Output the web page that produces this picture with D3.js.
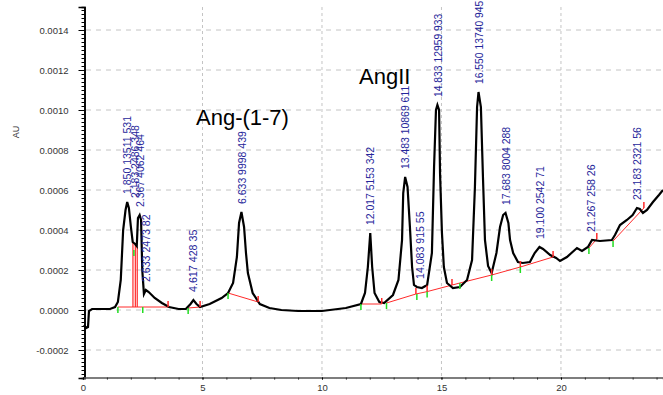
<!DOCTYPE html>
<html>
<head>
<meta charset="utf-8">
<script src="https://cdn.jsdelivr.net/npm/d3@7"></script>
<style>
  body { margin: 0; background: #fff; }
  svg { display: block; }
</style>
</head>
<body>
<div id="chart"></div>
<script>
const width = 663;
const height = 395;

// chromatogram trace: time (min) and absorbance (AU)
const traceTime = [0.04, 0.13, 0.21, 0.25, 0.38, 1.13, 1.34, 1.46, 1.58, 1.68, 1.78, 1.85, 1.92, 2.0, 2.08, 2.18, 2.25, 2.3, 2.37, 2.43, 2.48, 2.55, 2.63, 2.75, 3.0, 3.3, 3.6, 4.0, 4.3, 4.5, 4.62, 4.75, 4.9, 5.3, 5.8, 6.07, 6.28, 6.44, 6.53, 6.63, 6.74, 6.82, 6.9, 7.1, 7.4, 7.8, 8.3, 9.0, 10.0, 11.0, 11.63, 11.8, 11.92, 12.02, 12.1, 12.2, 12.4, 12.6, 12.97, 13.2, 13.35, 13.4, 13.48, 13.58, 13.68, 13.77, 13.85, 13.97, 14.18, 14.4, 14.6, 14.69, 14.77, 14.83, 14.9, 14.94, 15.02, 15.1, 15.23, 15.48, 15.77, 16.07, 16.28, 16.4, 16.49, 16.55, 16.65, 16.74, 16.82, 16.95, 17.1, 17.3, 17.45, 17.58, 17.68, 17.8, 17.87, 18.0, 18.2, 18.4, 18.7, 18.9, 19.1, 19.25, 19.55, 19.8, 19.96, 20.25, 20.67, 20.88, 21.13, 21.3, 21.63, 22.13, 22.26, 22.47, 22.76, 23.0, 23.18, 23.3, 23.43, 23.6, 23.85, 24.1, 24.27];
const traceAU = [-0.75e-4, -0.9e-4, -0.85e-4, -0.05e-4, 0.05e-4, 0.05e-4, 0.15e-4, 0.4e-4, 1.5e-4, 4.0e-4, 5.0e-4, 5.4e-4, 5.1e-4, 4.2e-4, 3.4e-4, 3.3e-4, 3.2e-4, 4.6e-4, 4.75e-4, 4.5e-4, 2.0e-4, 0.8e-4, 1.0e-4, 0.9e-4, 0.6e-4, 0.35e-4, 0.15e-4, 0.05e-4, 0.05e-4, 0.3e-4, 0.5e-4, 0.3e-4, 0.15e-4, 0.3e-4, 0.6e-4, 0.85e-4, 1.35e-4, 2.65e-4, 4.35e-4, 4.9e-4, 4.15e-4, 2.85e-4, 1.85e-4, 0.85e-4, 0.3e-4, 0.1e-4, 0.0, -0.05e-4, -0.05e-4, 0.1e-4, 0.3e-4, 0.85e-4, 2.15e-4, 3.85e-4, 2.15e-4, 0.85e-4, 0.4e-4, 0.35e-4, 0.75e-4, 1.5e-4, 3.5e-4, 5.85e-4, 6.65e-4, 6.15e-4, 4.15e-4, 2.15e-4, 1.25e-4, 1.15e-4, 1.1e-4, 1.25e-4, 2.85e-4, 7.15e-4, 10.0e-4, 10.25e-4, 10.0e-4, 6.85e-4, 3.85e-4, 2.15e-4, 1.35e-4, 1.1e-4, 1.15e-4, 1.5e-4, 2.5e-4, 6.15e-4, 10.15e-4, 10.9e-4, 10.15e-4, 6.5e-4, 3.5e-4, 2.2e-4, 1.85e-4, 2.85e-4, 4.15e-4, 4.75e-4, 4.85e-4, 4.35e-4, 3.5e-4, 2.85e-4, 2.4e-4, 2.35e-4, 2.4e-4, 2.85e-4, 3.15e-4, 3.05e-4, 2.75e-4, 2.6e-4, 2.45e-4, 2.65e-4, 3.1e-4, 2.95e-4, 3.15e-4, 3.5e-4, 3.45e-4, 3.5e-4, 3.75e-4, 4.25e-4, 4.5e-4, 4.75e-4, 5.1e-4, 5.05e-4, 4.85e-4, 5.0e-4, 5.4e-4, 5.75e-4, 6.0e-4];

// integration baselines (red): start time, start AU, end time, end AU
const baseStartT = [1.46, 4.4, 6.07, 11.63, 12.7, 13.93, 14.4, 15.77, 17.1, 18.3, 21.17, 22.18];
const baseStartV = [0.15e-4, 0.1e-4, 0.85e-4, 0.3e-4, 0.35e-4, 0.8e-4, 0.92e-4, 1.35e-4, 1.75e-4, 2.15e-4, 3.1e-4, 3.45e-4];
const baseEndT = [3.56, 4.9, 7.33, 12.5, 13.93, 14.4, 15.77, 17.1, 18.3, 19.67, 21.5, 23.47];
const baseEndV = [0.15e-4, 0.15e-4, 0.4e-4, 0.3e-4, 0.8e-4, 0.92e-4, 1.35e-4, 1.75e-4, 2.15e-4, 2.65e-4, 3.55e-4, 5.1e-4];

// drop lines inside the first cluster
const dropT = [2.09, 2.19, 2.27];
const dropTop = [3.35e-4, 3.25e-4, 3.15e-4];
const dropBottom = 0.15e-4;

// peak start (green) and end (red) markers
const startT = [1.46, 2.13, 2.5, 4.4, 6.07, 11.63, 12.7, 13.97, 14.4, 15.77, 17.1, 18.3, 21.17, 22.18];
const startV = [0.15e-4, 3.0e-4, 0.15e-4, 0.1e-4, 0.85e-4, 0.3e-4, 0.35e-4, 0.8e-4, 0.92e-4, 1.35e-4, 1.75e-4, 2.15e-4, 3.1e-4, 3.45e-4];
const endT = [3.56, 4.9, 7.33, 12.5, 13.93, 14.4, 15.44, 17.1, 18.3, 19.67, 21.5, 23.47];
const endV = [0.15e-4, 0.15e-4, 0.4e-4, 0.3e-4, 0.8e-4, 0.92e-4, 1.25e-4, 1.75e-4, 2.15e-4, 2.65e-4, 3.55e-4, 5.1e-4];

// peak annotations: retention time, label, height the label sits on
const peakT = [1.85, 2.183, 2.367, 2.633, 4.617, 6.633, 12.017, 13.483, 14.083, 14.833, 16.55, 17.683, 19.1, 21.267, 23.183];
const peakText = ["1.850 13511 531", "2.183 2486 348", "2.367 4062 464", "2.633 2473 82", "4.617 428 35",
  "6.633 9998 439", "12.017 5153 342", "13.483 10869 611", "14.083 915 55", "14.833 12959 933",
  "16.550 13740 945", "17.683 8004 288", "19.100 2542 71", "21.267 258 26", "23.183 2321 56"];
const peakTop = [5.4e-4, 5.2e-4, 4.75e-4, 1.0e-4, 0.5e-4, 4.9e-4, 3.85e-4, 6.65e-4, 1.15e-4, 10.25e-4, 10.9e-4, 4.85e-4, 3.15e-4, 3.5e-4, 5.1e-4];

const yTicks = [-0.0002, 0, 0.0002, 0.0004, 0.0006, 0.0008, 0.0010, 0.0012, 0.0014];
const yTickLabels = ["-0.0002", "0.0000", "0.0002", "0.0004", "0.0006", "0.0008", "0.0010", "0.0012", "0.0014"];
const xTicks = [0, 5, 10, 15, 20];

const xScale = d3.scaleLinear().domain([0, 24.27]).range([83, 663]);
const yScale = d3.scaleLinear().domain([-0.00034, 0.001515]).range([378, 7]);

const svg = d3.select("#chart").append("svg")
    .attr("width", width)
    .attr("height", height);

// grid
svg.append("g").selectAll("line").data(yTicks).enter().append("line")
    .attr("x1", 86).attr("x2", width)
    .attr("y1", d => yScale(d)).attr("y2", d => yScale(d))
    .attr("stroke", "#c4c4c4").attr("stroke-width", 1)
    .attr("stroke-dasharray", "5,5");

svg.append("g").selectAll("line").data(xTicks.slice(1)).enter().append("line")
    .attr("x1", d => xScale(d)).attr("x2", d => xScale(d))
    .attr("y1", 7).attr("y2", 376)
    .attr("stroke", "#c4c4c4").attr("stroke-width", 1)
    .attr("stroke-dasharray", "3,3");

// axes
const yAxis = svg.append("g").attr("transform", "translate(84.5,0)");
yAxis.call(d3.axisLeft(yScale).tickValues(d3.range(-0.00034, 0.00152, 0.00002)).tickSize(3).tickFormat(""));
yAxis.append("g").call(d3.axisLeft(yScale).tickValues(yTicks).tickSize(6).tickFormat((d, i) => yTickLabels[i]));
yAxis.selectAll(".domain").attr("stroke", "#000").attr("stroke-width", 1.6);
yAxis.selectAll("text").attr("font-family", "Liberation Sans, Arial, sans-serif")
    .attr("font-size", 9.5).attr("fill", "#333").attr("dx", -7);

const xAxis = svg.append("g").attr("transform", "translate(0,377.5)");
xAxis.call(d3.axisBottom(xScale).tickValues(d3.range(0, 25, 1)).tickSize(2).tickFormat(""));
xAxis.append("g").call(d3.axisBottom(xScale).tickValues(xTicks).tickSize(2).tickFormat(d3.format("d")));
xAxis.selectAll(".domain").attr("stroke", "#555").attr("stroke-width", 1.2);
xAxis.selectAll("text").attr("font-family", "Liberation Sans, Arial, sans-serif")
    .attr("font-size", 9.5).attr("fill", "#333").attr("dy", "0.9em");

svg.append("text")
    .attr("transform", "translate(19,132) rotate(-90)")
    .attr("text-anchor", "middle")
    .attr("font-family", "Liberation Sans, Arial, sans-serif")
    .attr("font-size", 9).attr("fill", "#333")
    .text("AU");

// integration baselines and drop lines
svg.append("g").selectAll("line").data(baseStartT).enter().append("line")
    .attr("x1", d => xScale(d)).attr("y1", (d, i) => yScale(baseStartV[i]))
    .attr("x2", (d, i) => xScale(baseEndT[i])).attr("y2", (d, i) => yScale(baseEndV[i]))
    .attr("stroke", "#ff2a2a").attr("stroke-width", 1);

svg.append("g").selectAll("line").data(dropT).enter().append("line")
    .attr("x1", d => xScale(d)).attr("x2", d => xScale(d))
    .attr("y1", (d, i) => yScale(dropTop[i])).attr("y2", yScale(dropBottom))
    .attr("stroke", "#ff2a2a").attr("stroke-width", 1.2);

// trace
const line = d3.line()
    .x(i => xScale(traceTime[i]))
    .y(i => yScale(traceAU[i]));

svg.append("path")
    .datum(d3.range(traceTime.length))
    .attr("d", line)
    .attr("fill", "none")
    .attr("stroke", "#000")
    .attr("stroke-width", 2.2)
    .attr("stroke-linejoin", "miter");

// start / end markers
svg.append("g").selectAll("line").data(startT).enter().append("line")
    .attr("x1", d => xScale(d)).attr("x2", d => xScale(d))
    .attr("y1", (d, i) => yScale(startV[i])).attr("y2", (d, i) => yScale(startV[i]) + 6)
    .attr("stroke", "#22dd22").attr("stroke-width", 1.5);

svg.append("g").selectAll("line").data(endT).enter().append("line")
    .attr("x1", d => xScale(d)).attr("x2", d => xScale(d))
    .attr("y1", (d, i) => yScale(endV[i]) - 6).attr("y2", (d, i) => yScale(endV[i]))
    .attr("stroke", "#ff2a2a").attr("stroke-width", 1.5);

// peak labels (condensed, reading bottom to top)
svg.append("g").selectAll("text").data(peakT).enter().append("text")
    .attr("transform", (d, i) => `translate(${xScale(d)},${yScale(peakTop[i]) - 8}) rotate(-90)`)
    .attr("dy", "0.36em")
    .attr("font-family", "Liberation Sans, Arial, sans-serif")
    .attr("font-size", 11.5)
    .attr("fill", "#26269a")
    .attr("textLength", (d, i) => peakText[i].length * 5.2)
    .attr("lengthAdjust", "spacingAndGlyphs")
    .text((d, i) => peakText[i]);

// compound names
svg.append("text")
    .attr("x", 196).attr("y", 125)
    .attr("font-family", "Liberation Sans, Arial, sans-serif")
    .attr("font-size", 22).attr("fill", "#000")
    .text("Ang-(1-7)");

svg.append("text")
    .attr("x", 359).attr("y", 84)
    .attr("font-family", "Liberation Sans, Arial, sans-serif")
    .attr("font-size", 22).attr("fill", "#000")
    .text("AngII");
</script>
</body>
</html>
